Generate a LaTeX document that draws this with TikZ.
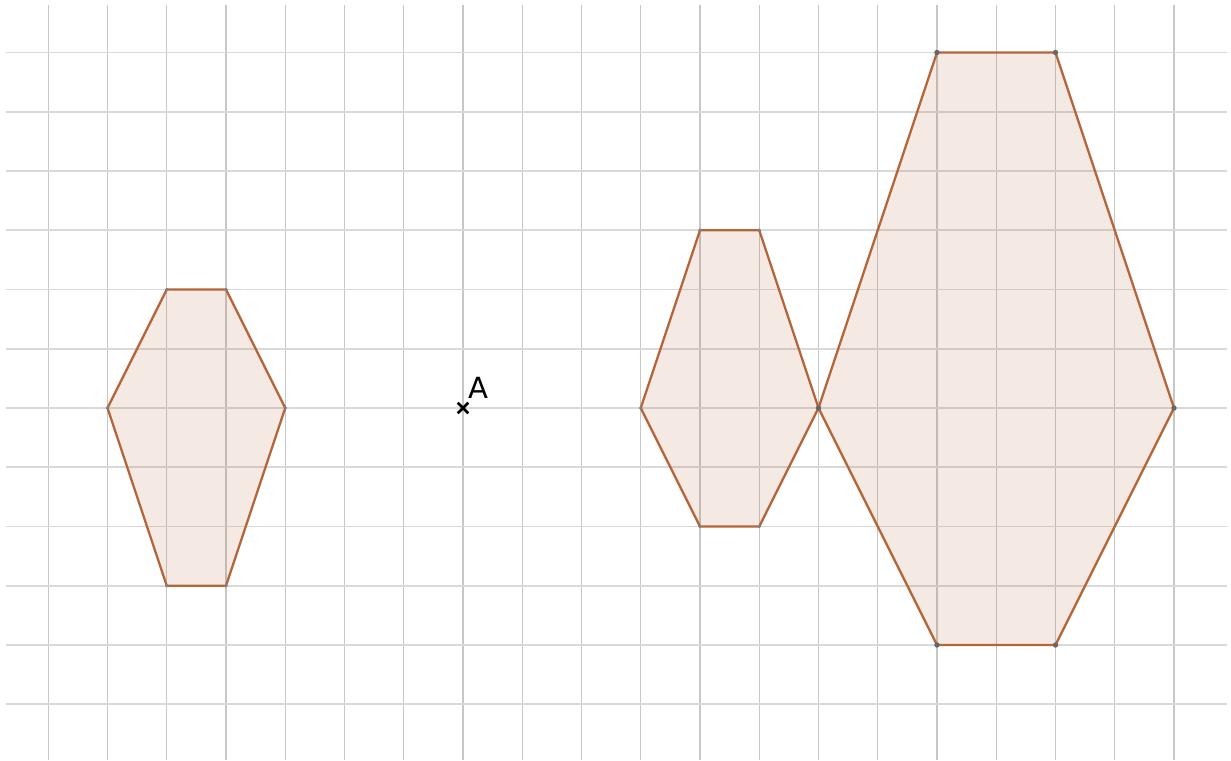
\documentclass[tikz,border=0pt]{standalone}
\usepackage{fontspec}
\setmainfont{DejaVu Sans}
\usetikzlibrary{calc}
\begin{document}
\begin{tikzpicture}[x=1cm,y=1cm,
  vline/.style={draw=black!22, line width=0.6pt},
  hline/.style={draw=black!15, line width=0.8pt},
  hexa/.style={draw={rgb,255:red,181;green,101;blue,58}, line width=1.1pt, fill={rgb,255:red,181;green,101;blue,58}, fill opacity=0.14, draw opacity=1, line join=round},
  vdot/.style={circle, fill=black!60, inner sep=0pt, minimum size=2.6pt}]
\useasboundingbox (-7.814,-5.941) rectangle (12.962,6.886);
\foreach \x in {-7,...,12} \draw[vline] (\x,-5.941) -- (\x,6.80);
\foreach \y in {-5,...,6} \draw[hline] (-7.713,\y) -- (12.894,\y);
% left hexagon
\draw[hexa] (-6,0) -- (-5,2) -- (-4,2) -- (-3,0) -- (-4,-3) -- (-5,-3) -- cycle;
\foreach \p in {(-6,0),(-5,2),(-4,2),(-3,0),(-4,-3),(-5,-3)} \node[vdot, minimum size=1.8pt, fill=black!50] at \p {};
% middle hexagon
\draw[hexa] (3,0) -- (4,3) -- (5,3) -- (6,0) -- (5,-2) -- (4,-2) -- cycle;
\foreach \p in {(3,0),(4,3),(5,3),(5,-2),(4,-2)} \node[vdot, minimum size=1.8pt, fill=black!50] at \p {};
% big hexagon
\draw[hexa] (6,0) -- (8,6) -- (10,6) -- (12,0) -- (10,-4) -- (8,-4) -- cycle;
\foreach \p in {(8,6),(10,6),(12,0),(10,-4),(8,-4),(6,0)} \node[vdot] at \p {};
% point A
\coordinate (A) at (0,0);
\draw[line width=1.2pt] ($(A)+(-0.09,-0.09)$) -- ($(A)+(0.09,0.09)$);
\draw[line width=1.2pt] ($(A)+(-0.09,0.09)$) -- ($(A)+(0.09,-0.09)$);
\node[anchor=south west, inner sep=0pt, font=\fontsize{14}{16}\selectfont] (lA) at (0.08,0.15) {A};
\end{tikzpicture}
\end{document}
